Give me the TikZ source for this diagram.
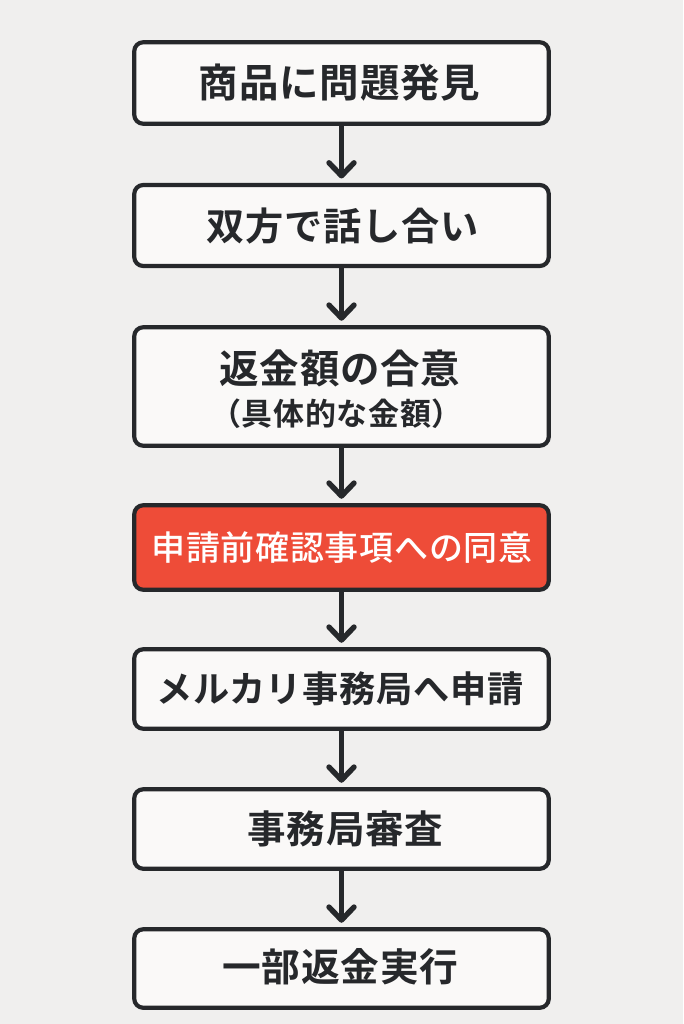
\documentclass[tikz,border=0pt]{standalone}
\usepackage{fontspec}
\usetikzlibrary{arrows.meta}
\newfontfamily\jpbold[LetterSpace=2]{Noto Sans CJK JP Bold}
\newfontfamily\jpreg[LetterSpace=2]{Noto Sans CJK JP Medium}
\definecolor{bgc}{HTML}{F0EFEE}
\definecolor{boxc}{HTML}{FAF9F8}
\definecolor{inkc}{HTML}{26282B}
\definecolor{redc}{HTML}{EE4C38}
\tikzset{
  flowbox/.style={draw=inkc,line width=4.2pt,rounded corners=9pt,fill=boxc,minimum width=414.5pt,inner sep=0pt,outer sep=0pt,anchor=center},
  redbox/.style={flowbox,fill=redc},
  lbl/.style={text=inkc,inner sep=0pt,anchor=center},
  conn/.style={draw=inkc,line width=5pt,-{Straight Barb[length=13pt,width=25pt,line width=5.4pt,round]},shorten >=6.5pt}
}
\newcommand{\fs}[1]{\fontsize{#1pt}{#1pt}\selectfont}
\begin{document}
\begin{tikzpicture}[x=1pt,y=-1pt]
\path[use as bounding box,fill=bgc] (0,0) rectangle (683,1024);
\node[flowbox,minimum height=81.5pt] (b1) at (341.5,83) {};
\node[flowbox,minimum height=81pt] (b2) at (341.5,225.5) {};
\node[flowbox,minimum height=118.5pt] (b3) at (341.5,386.5) {};
\node[redbox,minimum height=84.5pt] (b4) at (341.5,547.5) {};
\node[flowbox,minimum height=79.5pt] (b5) at (341.5,689) {};
\node[flowbox,minimum height=79.5pt] (b6) at (341.5,829) {};
\node[flowbox,minimum height=78.5pt] (b7) at (341.5,968.5) {};
\node[lbl] (t1) at (339.5,83) {\jpbold\fs{39.5}商品に問題発見};
\node[lbl] (t2) at (342.5,226) {\jpbold\fs{38.2}双方で話し合い};
\node[lbl] (t3a) at (340,368) {\jpbold\fs{39.5}返金額の合意};
\node[lbl] (t3b) at (336.5,414) {\jpbold\fs{31}（具体的な金額）};
\node[lbl,text=white] (t4) at (342,548) {\jpreg\fs{34}申請前確認事項への同意};
\node[lbl] (t5) at (340,689) {\jpbold\fs{36.2}メルカリ事務局へ申請};
\node[lbl] (t6) at (345.5,829) {\jpbold\fs{38.5}事務局審査};
\node[lbl] (t7) at (340.5,967) {\jpbold\fs{38.7}一部返金実行};
\draw[conn] (b1) -- (b2);
\draw[conn] (b2) -- (b3);
\draw[conn] (b3) -- (b4);
\draw[conn] (b4) -- (b5);
\draw[conn] (b5) -- (b6);
\draw[conn] (b6) -- (b7);
\end{tikzpicture}
\end{document}
